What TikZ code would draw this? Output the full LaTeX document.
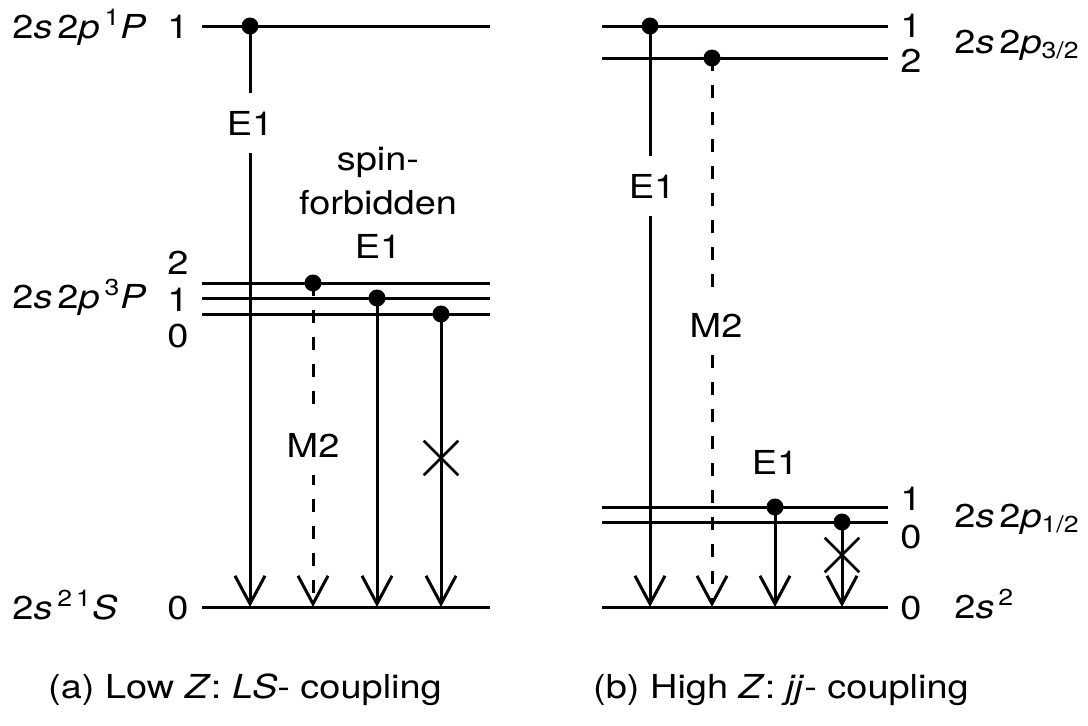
\documentclass[tikz,border=0pt]{standalone}
\usepackage{fontspec}
\setmainfont{TeX Gyre Heros}[FakeStretch=1.15]
\usetikzlibrary{arrows.meta,shapes.misc}

\tikzset{
  level/.style={line width=1.5pt},
  trans/.style={line width=1.5pt,->},
  forb/.style={trans,dash pattern=on 6.5pt off 7pt},
  dot/.style={circle,fill,inner sep=0pt,minimum size=8.5pt},
  gaplbl/.style={fill=white,inner xsep=2pt,inner ysep=9pt,text height=12pt,text depth=0pt},
  numlbl/.style={inner sep=0pt,text height=12pt,text depth=0pt},
  term/.style={inner sep=0pt},
  veto/.style={draw,cross out,line width=1.3pt,inner sep=0pt,minimum size=16pt},
}

\begin{document}
\begin{tikzpicture}[x=.5pt,y=-.5pt,font=\fontsize{16.5pt}{22pt}\selectfont,
  >={Straight Barb[length=14pt,width=15pt]}]
 \useasboundingbox (0,0) rectangle (1088,725);
 \begin{scope}
  \draw[level] (202,26) -- (490,26);
  \draw[level] (202,283) -- (490,283);
  \draw[level] (202,298) -- (490,298);
  \draw[level] (202,314) -- (490,314);
  \draw[level] (202,607) -- (490,607);
  \node[term,anchor=base west] (aP1) at (12,38)
       {2\textit{s}\kern2.5pt2\textit{p}\kern2.5pt\textsuperscript{1}\textit{P}};
  \node[term,anchor=base west] (aP3) at (12,308)
       {2\textit{s}\kern2.5pt2\textit{p}\kern2.5pt\textsuperscript{3}\textit{P}};
  \node[term,anchor=base west] (aS1) at (12,619)
       {2\textit{s}\kern2.5pt\textsuperscript{2\kern2pt1}\textit{S}};
  \node[numlbl] (aj1) at (178,26) {1};
  \node[numlbl] (aj2t) at (178,262) {2};
  \node[numlbl] (aj1t) at (178,299) {1};
  \node[numlbl] (aj0t) at (178,335) {0};
  \node[numlbl] (aj0) at (178,607) {0};
  \node[dot] (ad1) at (250,26) {};
  \node[dot] (ad2) at (313,283) {};
  \node[dot] (ad3) at (377,298) {};
  \node[dot] (ad4) at (441,314) {};
  \coordinate (ag1) at (250,607);
  \coordinate (ag2) at (313,607);
  \coordinate (ag3) at (377,607);
  \coordinate (ag4) at (441,607);
  \draw[trans] (ad1.center) -- (ag1);
  \draw[forb] (ad2.center) -- (ag2);
  \draw[trans] (ad3.center) -- (ag3);
  \draw[trans] (ad4.center) -- (ag4);
  \node[gaplbl] (aE1) at (250,123) {E1};
  \node[gaplbl] (aM2) at (313,445) {M2};
  \node[align=center] (aspin) at (378,203) {spin-\\forbidden\\E1};
  \node[veto] (ax) at (441,458) {};
  \node (acap) at (245,690)
       {(a) Low \textit{Z}: \textit{LS}- coupling};
 \end{scope}
 \begin{scope}[xshift=200pt]
  \draw[level] (202,26) -- (488,26);
  \draw[level] (202,58) -- (488,58);
  \draw[level] (202,507) -- (488,507);
  \draw[level] (202,522) -- (488,522);
  \draw[level] (202,607) -- (488,607);
  \node[numlbl] (bj1) at (511,25) {1};
  \node[numlbl] (bj2) at (511,60) {2};
  \node[numlbl] (bj1b) at (511,498) {1};
  \node[numlbl] (bj0b) at (511,536) {0};
  \node[numlbl] (bj0) at (511,607) {0};
  \node[term,anchor=base west] (bp32) at (554,53)
       {2\textit{s}\kern2.5pt2\textit{p}\textsubscript{3/2}};
  \node[term,anchor=base west] (bp12) at (554,527)
       {2\textit{s}\kern2.5pt2\textit{p}\textsubscript{1/2}};
  \node[term,anchor=base west] (bs2) at (554,618)
       {2\textit{s}\kern2pt\textsuperscript{2}};
  \node[dot] (bd1) at (250,26) {};
  \node[dot] (bd2) at (312,58) {};
  \node[dot] (bd3) at (375,507) {};
  \node[dot] (bd4) at (442,522) {};
  \coordinate (bg1) at (250,607);
  \coordinate (bg2) at (312,607);
  \coordinate (bg3) at (375,607);
  \coordinate (bg4) at (442,607);
  \draw[trans] (bd1.center) -- (bg1);
  \draw[forb] (bd2.center) -- (bg2);
  \draw[trans] (bd3.center) -- (bg3);
  \draw[trans] (bd4.center) -- (bg4);
  \node[gaplbl] (bE1) at (252,186) {E1};
  \node[gaplbl] (bM2) at (316,325) {M2};
  \node[numlbl] (bE1b) at (375,462) {E1};
  \node[veto] (bx) at (442,555) {};
  \node (bcap) at (381,690)
       {(b) High \textit{Z}: \textit{jj}- coupling};
 \end{scope}
\end{tikzpicture}
\end{document}
